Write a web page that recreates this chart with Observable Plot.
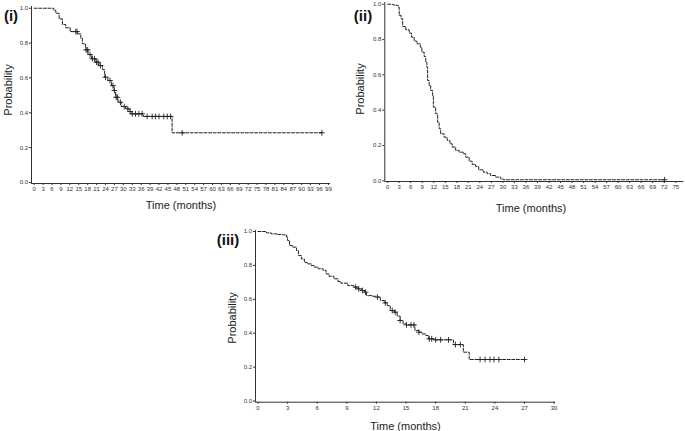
<!DOCTYPE html>
<html>
<head>
<meta charset="utf-8">
<script src="https://cdn.jsdelivr.net/npm/d3@7"></script>
<script src="https://cdn.jsdelivr.net/npm/@observablehq/plot@0.6"></script>
<style>
  html, body { margin: 0; padding: 0; background: #fff; }
  #wrap { position: relative; width: 685px; height: 431px; overflow: hidden; font-family: "Liberation Sans", Arial, Helvetica, sans-serif; color: #222; }
  .p { position: absolute; }
  .lbl { position: absolute; transform: translate(-50%, -50%); white-space: nowrap; font-size: 11px; color: #222; }
  .rot { transform: translate(-50%, -50%) rotate(-90deg); }
  .tag { position: absolute; transform: translate(-50%, -50%); font-weight: bold; font-size: 15px; color: #111; white-space: nowrap; }
</style>
</head>
<body>
<div id="wrap"></div>
<script>
// ---------- Data ----------
// Panel (i)
const time1 = [0, 6.6, 7.3, 8.4, 9.5, 10.6, 12.1, 14.6, 15.7, 16.2, 17.3, 18.1, 19.3, 20.7, 21.8, 23.0, 23.7, 24.8, 26.0, 26.8, 27.4, 28.2, 29.3, 30.8, 31.9, 32.7, 36.7, 46.4, 96.8];
const surv1 = [1, 0.988, 0.971, 0.939, 0.907, 0.888, 0.866, 0.853, 0.828, 0.796, 0.761, 0.734, 0.710, 0.690, 0.671, 0.648, 0.604, 0.585, 0.556, 0.528, 0.489, 0.461, 0.436, 0.423, 0.407, 0.394, 0.379, 0.285, 0.285];
const cens1 = [14.0, 14.4, 17.5, 18.0, 18.8, 19.6, 20.3, 21.0, 21.5, 22.3, 24.0, 25.5, 26.5, 27.0, 27.6, 28.0, 29.0, 30.3, 31.5, 32.3, 33.0, 34.1, 35.2, 36.3, 38.0, 39.7, 40.8, 42.0, 43.6, 44.8, 45.9, 49.8, 96.8];
const xTicks1 = [0, 3, 6, 9, 12, 15, 18, 21, 24, 27, 30, 33, 36, 39, 42, 45, 48, 51, 54, 57, 60, 63, 66, 69, 72, 75, 78, 81, 84, 87, 90, 93, 96, 99];

// Panel (ii)
const time2 = [0, 1.3, 1.7, 2.4, 2.8, 3.0, 3.5, 3.9, 4.7, 5.6, 6.2, 6.9, 7.6, 8.5, 8.9, 9.5, 9.9, 10.2, 10.4, 10.8, 11.2, 11.7, 11.9, 12.5, 13.0, 13.4, 13.8, 14.7, 15.5, 16.2, 16.8, 17.7, 18.6, 19.7, 20.3, 21.2, 22.0, 22.9, 23.7, 24.9, 25.9, 26.8, 28.1, 29.4, 30.1, 72.1];
const surv2 = [1, 0.997, 0.995, 0.993, 0.984, 0.937, 0.918, 0.874, 0.856, 0.837, 0.814, 0.791, 0.776, 0.757, 0.729, 0.704, 0.672, 0.644, 0.568, 0.540, 0.512, 0.483, 0.417, 0.380, 0.332, 0.295, 0.266, 0.247, 0.229, 0.210, 0.191, 0.172, 0.162, 0.153, 0.134, 0.111, 0.093, 0.081, 0.062, 0.049, 0.040, 0.030, 0.021, 0.011, 0.006, 0.006];
const cens2 = [72.1];
const xTicks2 = [0, 3, 6, 9, 12, 15, 18, 21, 24, 27, 30, 33, 36, 39, 42, 45, 48, 51, 54, 57, 60, 63, 66, 69, 72, 75];

// Panel (iii)
const time3 = [0, 0.84, 1.34, 2.0, 2.5, 2.9, 3.0, 3.2, 3.5, 3.9, 4.1, 4.4, 4.7, 5.0, 5.4, 5.7, 6.1, 6.6, 6.9, 7.2, 7.7, 8.1, 8.4, 9.1, 9.7, 10.1, 10.5, 10.8, 11.0, 11.6, 12.1, 12.4, 12.8, 13.1, 13.4, 13.8, 14.1, 14.4, 14.7, 15.0, 15.9, 16.3, 16.6, 17.0, 17.3, 17.8, 19.8, 20.8, 21.4, 27.0];
const surv3 = [1, 0.992, 0.986, 0.982, 0.980, 0.967, 0.947, 0.917, 0.908, 0.888, 0.858, 0.838, 0.818, 0.809, 0.799, 0.790, 0.780, 0.771, 0.750, 0.736, 0.721, 0.705, 0.695, 0.681, 0.672, 0.662, 0.652, 0.642, 0.622, 0.618, 0.613, 0.593, 0.579, 0.563, 0.534, 0.524, 0.501, 0.475, 0.455, 0.449, 0.416, 0.406, 0.396, 0.386, 0.367, 0.361, 0.333, 0.288, 0.245, 0.245];
const cens3 = [9.9, 10.2, 10.6, 10.9, 12.1, 12.9, 13.6, 13.9, 14.4, 15.05, 15.5, 15.8, 16.3, 17.35, 17.6, 18.0, 18.5, 19.3, 20.0, 20.5, 22.5, 23.0, 23.5, 23.9, 24.4, 27.0];
const xTicks3 = [0, 3, 6, 9, 12, 15, 18, 21, 24, 27, 30];

const yTicks = [0, 0.2, 0.4, 0.6, 0.8, 1.0];

// ---------- Helpers ----------
function stepAt(ts, ss, t) {
  let v = ss[0];
  for (let i = 0; i < ts.length; i++) if (ts[i] <= t) v = ss[i];
  return v;
}

function panel(cfg) {
  const curve = cfg.time.map((t, i) => ({t, s: cfg.surv[i]}));
  const marks = cfg.cens.map(t => ({t, s: stepAt(cfg.time, cfg.surv, t)}));
  return Plot.plot({
    width: cfg.width, height: cfg.height,
    marginLeft: cfg.ml, marginRight: cfg.mr, marginTop: cfg.mt, marginBottom: cfg.mb,
    x: {domain: cfg.xDomain, axis: null},
    y: {domain: cfg.yDomain, axis: null},
    style: {fontFamily: "'Liberation Sans', Arial, Helvetica, sans-serif", background: "transparent", color: "#333", overflow: "visible"},
    marks: [
      Plot.ruleX([cfg.xDomain[0]], {stroke: "#333", strokeWidth: 1}),
      Plot.ruleY([cfg.yDomain[0]], {stroke: "#333", strokeWidth: 1}),
      Plot.axisY(yTicks, {tickSize: 2, tickPadding: 1.5, fontSize: 6, tickFormat: d3.format(".1f"), label: null, stroke: "#333"}),
      Plot.axisX(cfg.xTicks, {tickSize: 2, tickPadding: 1.5, fontSize: 6, tickFormat: d => String(d), label: null, stroke: "#333"}),
      Plot.line(curve, {x: "t", y: "s", curve: "step-after", stroke: "#222", strokeWidth: 1, strokeDasharray: "3,1.6"}),
      Plot.dot(marks, {x: "t", y: "s", symbol: "plus", r: 2, stroke: "#222", strokeWidth: 0.9})
    ]
  });
}

const wrap = document.getElementById("wrap");

function place(svg, left, top) {
  svg.classList.add("p");
  svg.style.left = left + "px";
  svg.style.top = top + "px";
  wrap.appendChild(svg);
}
function text(str, x, y, cls) {
  const d = document.createElement("div");
  d.className = cls;
  d.textContent = str;
  d.style.left = x + "px";
  d.style.top = y + "px";
  wrap.appendChild(d);
}

// Panel (i)
place(panel({
  time: time1, surv: surv1, cens: cens1, xTicks: xTicks1,
  width: 340, height: 220, ml: 31, mr: 10, mt: 6, mb: 37,
  xDomain: [-0.9, 99.7], yDomain: [-0.006, 1.01]
}), 0, 0);

// Panel (ii)
place(panel({
  time: time2, surv: surv2, cens: cens2, xTicks: xTicks2,
  width: 345, height: 220, ml: 44.3, mr: 1.7, mt: 2, mb: 39,
  xDomain: [-0.75, 77.1], yDomain: [-0.004, 1.01]
}), 340, 0);

// Panel (iii)
place(panel({
  time: time3, surv: surv3, cens: cens3, xTicks: xTicks3,
  width: 380, height: 216, ml: 55, mr: 24.9, mt: 15, mb: 29.3,
  xDomain: [-0.25, 30.15], yDomain: [-0.007, 1.006]
}), 200, 215);

// Labels
text("(i)", 11, 15, "tag");
text("Probability", 8, 90, "lbl rot");
text("Time (months)", 181, 205, "lbl");

text("(ii)", 363, 15, "tag");
text("Probability", 360, 89, "lbl rot");
text("Time (months)", 531, 208, "lbl");

text("(iii)", 228, 239, "tag");
text("Probability", 232, 318, "lbl rot");
text("Time (months)", 405.5, 426, "lbl");
</script>
</body>
</html>
